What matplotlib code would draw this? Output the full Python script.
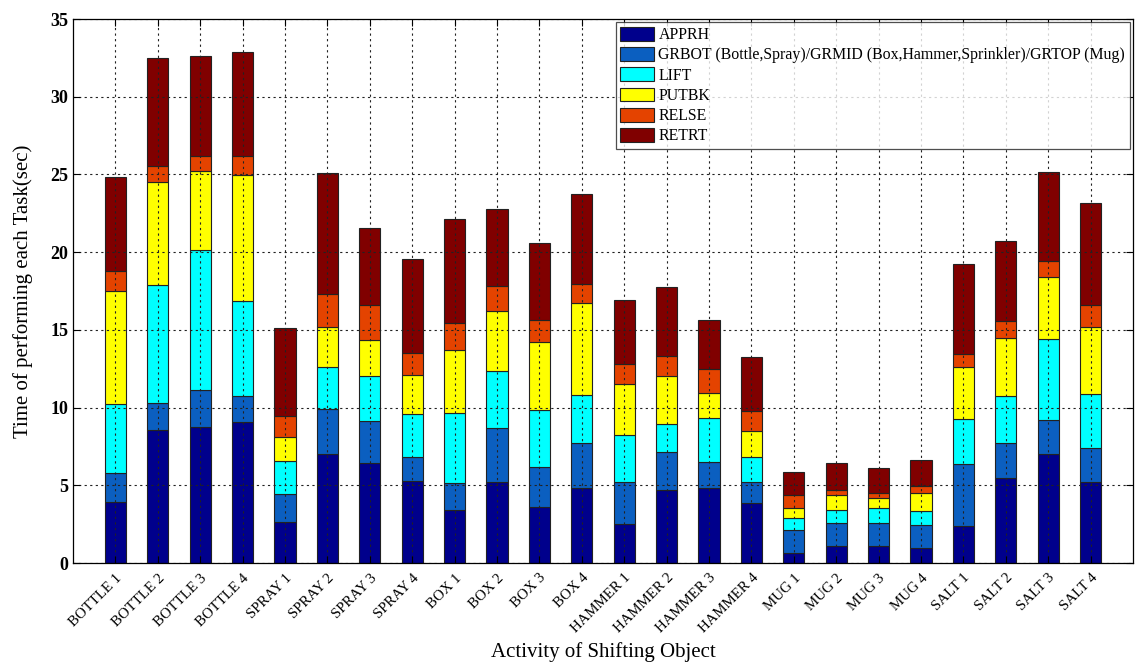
"""
Stacked bar chart of task phase durations for each shifting activity.
"""

import matplotlib
matplotlib.use("Agg")
import matplotlib.pyplot as plt
import numpy as np

activities = [
    "BOTTLE 1", "BOTTLE 2", "BOTTLE 3", "BOTTLE 4",
    "SPRAY 1", "SPRAY 2", "SPRAY 3", "SPRAY 4",
    "BOX 1", "BOX 2", "BOX 3", "BOX 4",
    "HAMMER 1", "HAMMER 2", "HAMMER 3", "HAMMER 4",
    "MUG 1", "MUG 2", "MUG 3", "MUG 4",
    "SALT 1", "SALT 2", "SALT 3", "SALT 4",
]

phases = [
    "APPRH",
    "GRBOT (Bottle,Spray)/GRMID (Box,Hammer,Sprinkler)/GRTOP (Mug)",
    "LIFT",
    "PUTBK",
    "RELSE",
    "RETRT",
]

# time (sec) spent in each phase, one value per activity
apprh = [3.91, 8.53, 8.74, 9.06, 2.67, 6.99, 6.45, 5.30, 3.41, 5.23, 3.59, 4.85,
         2.54, 4.72, 4.83, 3.84, 0.62, 1.07, 1.07, 0.96, 2.41, 5.45, 6.99, 5.19]
grasp = [1.86, 1.75, 2.37, 1.67, 1.77, 2.94, 2.67, 1.49, 1.72, 3.44, 2.60, 2.90,
         2.69, 2.41, 1.64, 1.37, 1.53, 1.51, 1.51, 1.49, 3.96, 2.29, 2.24, 2.18]
lift = [4.49, 7.63, 9.02, 6.13, 2.15, 2.70, 2.89, 2.80, 4.55, 3.69, 3.68, 3.08,
        2.99, 1.84, 2.84, 1.58, 0.77, 0.86, 0.95, 0.90, 2.90, 3.01, 5.21, 3.52]
putbk = [7.26, 6.62, 5.11, 8.10, 1.53, 2.54, 2.33, 2.52, 4.02, 3.83, 4.32, 5.88,
         3.30, 3.04, 1.65, 1.71, 0.61, 0.94, 0.64, 1.13, 3.33, 3.73, 3.93, 4.32]
relse = [1.28, 1.03, 0.94, 1.22, 1.31, 2.16, 2.26, 1.41, 1.77, 1.61, 1.45, 1.22,
         1.26, 1.28, 1.54, 1.28, 0.85, 0.32, 0.32, 0.50, 0.86, 1.10, 1.07, 1.39]
retrt = [6.01, 6.96, 6.47, 6.72, 5.68, 7.77, 4.98, 6.05, 6.66, 4.97, 4.95, 5.81,
         4.14, 4.47, 3.16, 3.47, 1.49, 1.73, 1.60, 1.64, 5.81, 5.14, 5.71, 6.58]

colors = ["#00008C", "#0B5FC0", "#00FFFF", "#FFFF00", "#E44300", "#800000"]

plt.rcParams["font.family"] = ["Liberation Serif", "DejaVu Serif"]

fig = plt.figure(figsize=(11.35, 6.7), dpi=100)
ax = fig.add_axes([0.0643, 0.1597, 0.934, 0.8119])

x = np.arange(1, len(activities) + 1)
bottom = np.zeros(len(activities))
for values, label, color in zip(
    [apprh, grasp, lift, putbk, relse, retrt], phases, colors
):
    ax.bar(x, values, width=0.5, bottom=bottom, color=color,
           edgecolor="#222222", linewidth=0.8, label=label, zorder=2)
    bottom += np.array(values)

ax.set_xlim(0, 25)
ax.set_ylim(0, 35)
ax.set_xticks(x)
ax.set_xticklabels(activities, rotation=45, ha="right", va="top",
                   rotation_mode="anchor", fontsize=10.7)
ax.set_yticks(np.arange(0, 36, 5))
ax.tick_params(axis="y", labelsize=13)
for lbl in ax.get_yticklabels():
    lbl.set_fontweight("bold")
ax.tick_params(direction="in", length=5, top=True, right=True, width=0.8)
ax.tick_params(axis="x", pad=6)

ax.grid(True, color="#222222", linestyle=(0, (2, 3)), linewidth=0.8, zorder=3)
ax.set_axisbelow(False)
for spine in ax.spines.values():
    spine.set_linewidth(0.9)
    spine.set_zorder(4)

ax.set_ylabel("Time of performing each Task(sec)", fontsize=15, labelpad=12)
ax.set_xlabel("Activity of Shifting Object", fontsize=15, labelpad=5)

leg = ax.legend(loc="upper right", fontsize=11.4, frameon=True, fancybox=False,
                borderaxespad=0.2, handlelength=2.1, handleheight=0.95,
                handletextpad=0.3, labelspacing=0.25, borderpad=0.3)
leg.get_frame().set_edgecolor("#222222")
leg.get_frame().set_linewidth(0.9)
leg.set_zorder(5)

fig.savefig("out.png", dpi=100)
